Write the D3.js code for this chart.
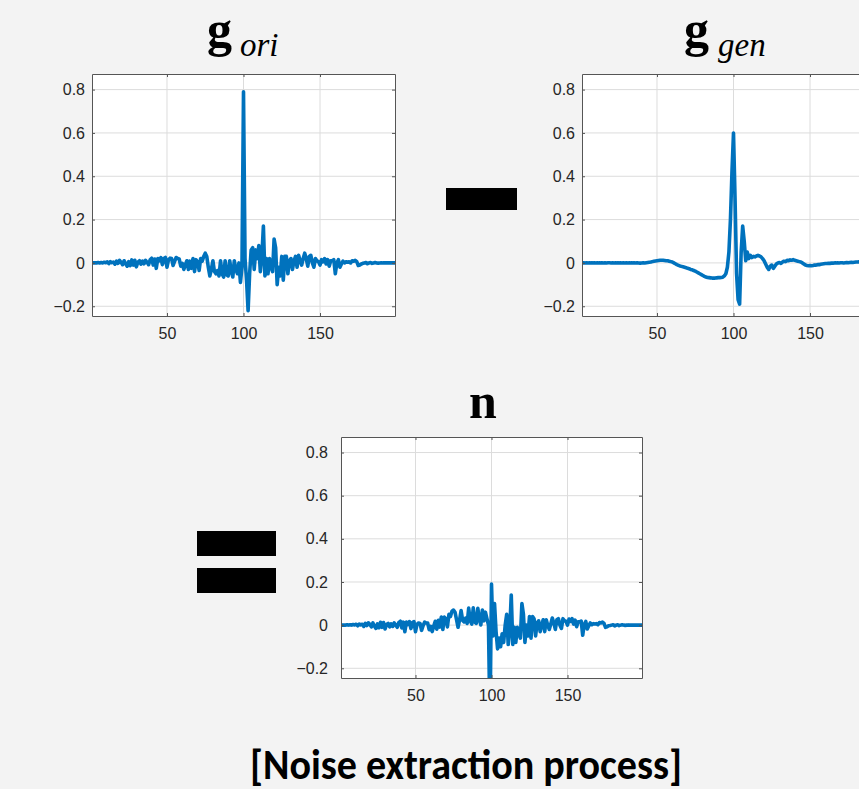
<!DOCTYPE html>
<html>
<head>
<meta charset="utf-8">
<script src="https://cdn.jsdelivr.net/npm/d3@7"></script>
<style>
  html, body { margin: 0; padding: 0; background: #f3f3f3; }
  svg { display: block; }
</style>
</head>
<body>
<div id="chart"></div>
<script>
// sample index 1..199
const sampleIdx = d3.range(1, 200);

// original signal g_ori
const gOri = [
  0, 0, 0, 0, 0.002, 0, 0.002, 0, 0.003, 0.001,
  0.005, -0.003, 0.006, 0.001, 0.004, -0.006, 0.008, -0.002, 0.012, 0.003,
  -0.008, 0.01, -0.004, -0.015, 0.006, -0.012, 0.014, -0.01, 0.012, -0.018,
  0.004, 0.01, -0.006, 0.008, -0.004, 0.012, 0.003, -0.008, 0.015, 0.022,
  -0.01, 0.018, -0.025, 0.02, 0.01, 0.024, -0.008, 0.02, 0.025, -0.02,
  0.015, 0.022, 0.02, -0.012, 0.008, 0.025, 0.02, 0.018, -0.015, -0.002,
  -0.03, -0.008, 0.01, -0.03, 0.008, -0.025, 0.02, -0.04, 0.015, 0.005,
  -0.035, 0.02, 0.008, 0.03, 0.045, 0.03, -0.02, -0.06, -0.03, 0.01,
  -0.04, -0.05, -0.035, -0.06, 0.01, -0.05, -0.065, 0.01, -0.055, -0.06,
  0.01, -0.04, -0.065, 0.01, -0.03, -0.05, 0.0, -0.09, -0.02, 0.79,
  0.02, -0.08, -0.22, -0.05, 0.06, 0.07, -0.03, 0.06, 0.02, 0.08,
  -0.04, 0.03, 0.17, -0.06, 0.02, -0.05, 0.02, -0.02, -0.04, 0.11,
  0.07, -0.1, -0.02, -0.06, 0.03, -0.08, 0.03, 0.03, -0.05, 0.01,
  0.02, -0.03, 0.01, 0.03, -0.02, 0.035, 0.01, -0.01, 0.02, 0.045,
  0.02, -0.015, 0.03, 0.035, 0.0, -0.02, 0.02, 0.01, 0.005, -0.01,
  0.015, 0.005, 0.02, -0.005, 0.015, -0.015, 0.01, 0.01, 0.015, -0.05,
  0.0, 0.015, -0.02, -0.005, 0.008, 0.0, 0.005, 0.003, 0.005, 0.0,
  0.01, 0.008, 0.012, 0.006, -0.012, -0.01, -0.005, -0.002, 0.0, 0.002,
  -0.004, 0.0, 0.002, -0.002, 0.0, 0.002, 0.0, -0.001, 0.0, 0.001,
  0, 0, 0, 0, 0, 0, 0, 0, 0
];

// generated signal g_gen
const gGen = [
  0.0, 0.001, 0.0, 0.001, 0.0, 0.001, 0.0, 0.0, 0.001, 0.0,
  0.001, 0.0, 0.0, 0.001, 0.0, 0.001, 0.0, 0.001, 0.001, 0.0,
  0.001, 0.0, 0.001, 0.0, 0.0, 0.001, 0.0, 0.001, 0.0, 0.001,
  0.0, 0.001, 0.0, 0.0, 0.001, 0.0, 0.001, 0.0, -0.001, 0.0,
  0.001, 0.0, 0.001, 0.002, 0.003, 0.004, 0.006, 0.008, 0.009, 0.01,
  0.011, 0.012, 0.012, 0.012, 0.011, 0.01, 0.01, 0.008, 0.006, 0.004,
  0.0, -0.004, -0.008, -0.011, -0.014, -0.016, -0.018, -0.02, -0.022, -0.025,
  -0.027, -0.03, -0.032, -0.035, -0.038, -0.042, -0.046, -0.05, -0.054, -0.058,
  -0.062, -0.065, -0.067, -0.068, -0.069, -0.07, -0.07, -0.07, -0.069, -0.068,
  -0.068, -0.067, -0.066, -0.06, -0.05, -0.02, 0.05, 0.2, 0.42, 0.6,
  0.3, -0.05, -0.17, -0.19, 0.05, 0.17, 0.1, 0.01, 0.05, 0.02,
  0.035, 0.025, 0.03, 0.028, 0.032, 0.035, 0.032, 0.028, 0.02, 0.01,
  -0.005, -0.02, -0.03, -0.015, -0.01, -0.025, -0.015, -0.005, 0.0, 0.002,
  -0.002, 0.004, 0.008, 0.006, 0.012, 0.01, 0.014, 0.012, 0.015, 0.012,
  0.01, 0.008, 0.006, 0.004, 0.0, -0.005, -0.01, -0.012, -0.013, -0.012,
  -0.013, -0.012, -0.01, -0.01, -0.008, -0.008, -0.006, -0.005, -0.004, -0.003,
  -0.003, -0.002, -0.002, -0.001, -0.001, 0.0, 0.0, 0.001, 0.0, 0.001,
  0.001, 0.0, 0.001, 0.002, 0.001, 0.002, 0.003, 0.002, 0.003, 0.004,
  0.004, 0.005, 0.004, 0.005, 0.005, 0.006, 0.005, 0.006, 0.006, 0.007,
  0.006, 0.007, 0.006, 0.007, 0.007, 0.008, 0.007, 0.008, 0.008
];

// extracted noise n
const noise = [
  0, 0, 0, 0, 0.002, 0, 0.002, 0, 0.003, 0.001,
  0.004, -0.003, 0.005, 0.001, 0.004, -0.006, 0.008, -0.002, 0.011, 0.003,
  -0.008, 0.01, -0.005, -0.015, 0.006, -0.012, 0.013, -0.01, 0.012, -0.018,
  0.003, 0.008, -0.008, 0.006, -0.006, 0.01, 0.0, -0.01, 0.012, 0.018,
  -0.013, 0.014, -0.03, 0.014, 0.003, 0.016, -0.016, 0.012, 0.016, -0.03,
  0.004, 0.01, 0.008, -0.024, -0.003, 0.014, 0.01, 0.01, -0.021, -0.006,
  -0.03, -0.004, 0.018, -0.019, 0.022, -0.009, 0.038, -0.02, 0.037, 0.03,
  -0.008, 0.05, 0.04, 0.065, 0.07, 0.06, 0.026, -0.01, 0.024, 0.068,
  0.022, 0.015, 0.032, 0.008, 0.079, 0.02, 0.005, 0.08, 0.014, 0.008,
  0.078, 0.027, 0.001, 0.07, 0.02, 0.06, 0.03, 0.0, -0.45, 0.19,
  -0.05, 0.1, -0.03, -0.11, -0.06, -0.1, -0.04, -0.08, 0.0, 0.05,
  -0.09, -0.02, 0.14, -0.09, -0.01, -0.08, -0.01, -0.04, -0.06, 0.1,
  0.05, -0.08, 0.0, -0.05, 0.04, -0.06, 0.04, 0.03, -0.05, 0.01,
  0.02, -0.03, 0.0, 0.025, -0.03, 0.025, 0.0, -0.02, 0.005, 0.033,
  0.01, -0.02, 0.025, 0.03, 0.0, -0.015, 0.03, 0.02, 0.018, 0.0,
  0.028, 0.017, 0.03, 0.005, 0.023, -0.007, 0.016, 0.015, 0.019, -0.047,
  0.003, 0.017, -0.018, -0.003, 0.01, 0.002, 0.007, 0.005, 0.007, 0.002,
  0.012, 0.01, 0.014, 0.008, -0.01, -0.008, -0.003, -0.002, 0.0, 0.002,
  -0.004, 0.0, 0.002, -0.002, 0.0, 0.002, 0.0, -0.001, 0.0, 0.001,
  0, 0, 0, 0, 0, 0, 0, 0, 0
];

const xTicks = [50, 100, 150];
const yTicks = [-0.2, 0, 0.2, 0.4, 0.6, 0.8];
const xDomain = [1, 199];
const yDomain = [-0.245, 0.872];

const W = 859, H = 789;
const lineColor = '#0072bd';

const svg = d3.select('#chart').append('svg')
    .attr('width', W)
    .attr('height', H);

svg.append('rect').attr('width', W).attr('height', H).attr('fill', '#f3f3f3');

// panel boxes
const panels = [
    { id: 'ori', values: gOri, left: 92, top: 74, width: 303, height: 242, yPad: 7,
      main: 'g', sub: 'ori', tx: 207, ty: 46, sx: 240, sy: 56 },
    { id: 'gen', values: gGen, left: 582, top: 74, width: 303, height: 242, yPad: 7,
      main: 'g', sub: 'gen', tx: 684, ty: 46, sx: 718, sy: 56 },
    { id: 'noise', values: noise, left: 341, top: 437, width: 301, height: 241, yPad: 13,
      main: 'n', sub: null, tx: 469, ty: 418 }
];

const fmt = d => d === 0 ? '0' : d3.format('.1f')(d);

panels.forEach(p => {
    const x = d3.scaleLinear().domain(xDomain).range([0, p.width]);
    const y = d3.scaleLinear().domain(yDomain).range([p.height, 0]);

    const g = svg.append('g').attr('transform', `translate(${p.left},${p.top})`);

    g.append('rect')
        .attr('width', p.width)
        .attr('height', p.height)
        .attr('fill', '#fff');

    // grid
    g.append('g').selectAll('line.gx')
        .data(xTicks).enter().append('line')
        .attr('x1', d => x(d)).attr('x2', d => x(d))
        .attr('y1', 0).attr('y2', p.height)
        .attr('stroke', '#dcdcdc').attr('stroke-width', 1);
    g.append('g').selectAll('line.gy')
        .data(yTicks).enter().append('line')
        .attr('x1', 0).attr('x2', p.width)
        .attr('y1', d => y(d)).attr('y2', d => y(d))
        .attr('stroke', '#dcdcdc').attr('stroke-width', 1);

    // signal
    g.append('clipPath').attr('id', 'clip-' + p.id)
        .append('rect').attr('width', p.width).attr('height', p.height);

    const line = d3.line()
        .x((d, i) => x(sampleIdx[i]))
        .y(d => y(d));

    g.append('path')
        .datum(p.values)
        .attr('clip-path', `url(#clip-${p.id})`)
        .attr('d', line)
        .attr('fill', 'none')
        .attr('stroke', lineColor)
        .attr('stroke-width', 3.6)
        .attr('stroke-linejoin', 'round');

    // axes
    const styleAxis = sel => {
        sel.select('.domain').attr('stroke', '#555').attr('stroke-width', 1);
        sel.selectAll('.tick line').attr('stroke', '#555');
        sel.selectAll('.tick text')
            .attr('fill', '#262626')
            .style('font-family', '"Liberation Sans", Arial, sans-serif')
            .style('font-size', '16px');
    };

    g.append('g')
        .call(d3.axisLeft(y).tickValues(yTicks).tickFormat(fmt)
            .tickSizeInner(-3).tickSizeOuter(0).tickPadding(p.yPad))
        .call(styleAxis);
    g.append('g')
        .attr('transform', `translate(${p.width},0)`)
        .call(d3.axisRight(y).tickValues(yTicks).tickFormat('')
            .tickSizeInner(-3).tickSizeOuter(0))
        .call(styleAxis);
    g.append('g')
        .attr('transform', `translate(0,${p.height})`)
        .call(d3.axisBottom(x).tickValues(xTicks)
            .tickSizeInner(-3).tickSizeOuter(0).tickPadding(12))
        .call(styleAxis);
    g.append('g')
        .call(d3.axisTop(x).tickValues(xTicks).tickFormat('')
            .tickSizeInner(-3).tickSizeOuter(0))
        .call(styleAxis);

    // title
    svg.append('text')
        .attr('x', p.tx).attr('y', p.ty)
        .style('font-family', '"Liberation Serif", "Times New Roman", serif')
        .style('font-weight', 'bold')
        .style('font-size', '50px')
        .attr('fill', '#000')
        .text(p.main);
    if (p.sub) {
        svg.append('text')
            .attr('x', p.sx).attr('y', p.sy)
            .style('font-family', '"Liberation Serif", "Times New Roman", serif')
            .style('font-style', 'italic')
            .style('font-size', '33px')
            .attr('fill', '#000')
            .text(p.sub);
    }
});

// operators
svg.append('rect').attr('x', 446).attr('y', 188).attr('width', 71).attr('height', 22).attr('fill', '#000');
svg.append('rect').attr('x', 197).attr('y', 531).attr('width', 79).attr('height', 25).attr('fill', '#000');
svg.append('rect').attr('x', 197).attr('y', 568).attr('width', 79).attr('height', 25).attr('fill', '#000');

// caption
svg.append('text')
    .attr('x', 466).attr('y', 779)
    .attr('text-anchor', 'middle')
    .attr('textLength', 432)
    .attr('lengthAdjust', 'spacingAndGlyphs')
    .style('font-family', 'Carlito, Calibri, Lato, sans-serif')
    .style('font-weight', 'bold')
    .style('font-size', '42px')
    .attr('fill', '#000')
    .text('[Noise extraction process]');
</script>
</body>
</html>
